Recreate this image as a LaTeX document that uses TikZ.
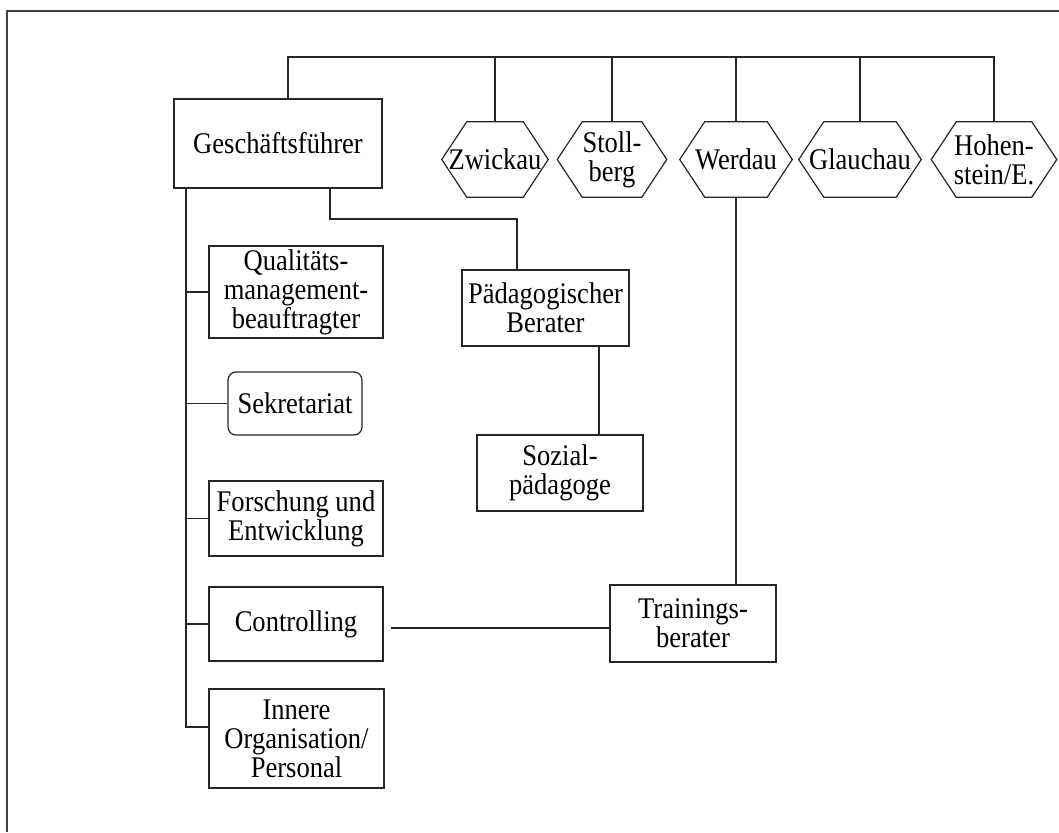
\documentclass[tikz,border=0pt]{standalone}
\usepackage{fontspec}
\setmainfont{Liberation Serif}[FakeStretch=0.885]
\usetikzlibrary{calc}
\tikzset{
  unit/.style={draw=black!85, line width=0.9pt, fill=white, inner sep=0pt, align=center,
    font=\fontsize{22.5}{21.8}\selectfont},
  box/.style={unit, rectangle},
  roundbox/.style={unit, rectangle, rounded corners=6pt},
  hexbox/.style={rectangle, inner sep=0pt, align=center, minimum height=56.25pt,
    font=\fontsize{22.5}{21.8}\selectfont},
  link/.style={draw=black!85, line width=0.9pt},
  frame/.style={draw=black!75, line width=1.5pt}
}
\begin{document}
\begin{tikzpicture}[x=0.75pt, y=-0.75pt]
\useasboundingbox (0,0) rectangle (1059,832);

% page frame (top and left edges)
\draw[frame] (1059,11) -- (7,11) -- (7,832);

% management
\node[box, minimum width=156pt, minimum height=66.75pt] (gf) at (278,143.5) {Geschäftsführer};

% staff units
\node[box, minimum width=130.5pt, minimum height=69pt] (qm) at (296,292) {Qualitäts-\\management-\\beauftragter};
\node[roundbox, minimum width=100.5pt, minimum height=47.25pt] (sek) at (295,403.5) {Sekretariat};
\node[box, minimum width=130.5pt, minimum height=56.25pt] (fe) at (296,518.5) {Forschung und\\Entwicklung};
\node[box, minimum width=130.5pt, minimum height=55.5pt] (ctrl) at (296,624) {Controlling};
\node[box, minimum width=131.25pt, minimum height=74.25pt] (inn) at (296.5,738.5) {Innere\\Organisation/\\Personal};

% advisers
\node[box, minimum width=125.25pt, minimum height=57pt] (pb) at (545.5,308) {Pädagogischer\\Berater};
\node[box, minimum width=124.5pt, minimum height=57pt] (sp) at (560,473) {Sozial-\\pädagoge};
\node[box, minimum width=124.5pt, minimum height=57.75pt] (tb) at (693,623.5) {Trainings-\\berater};

% sites
\node[hexbox, minimum width=79.5pt] (zw) at (495,159.5) {Zwickau};
\node[hexbox, minimum width=81.75pt] (st) at (612,159.5) {Stoll-\\berg};
\node[hexbox, minimum width=84pt] (we) at (736,159.5) {Werdau};
\node[hexbox, minimum width=91.5pt] (gl) at (860,159.5) {Glauchau};
\node[hexbox, minimum width=93.75pt] (ho) at (994,159.5) {Hohen-\\stein/E.};
\foreach \n in {zw,st,we,gl,ho}
  \draw[link] (\n.west) -- ([xshift=18.75pt]\n.north west) -- ([xshift=-18.75pt]\n.north east)
    -- (\n.east) -- ([xshift=-18.75pt]\n.south east) -- ([xshift=18.75pt]\n.south west) -- cycle;

% bus to the sites
\coordinate (bus) at (288,57);
\draw[link] (bus |- gf.north) -- (bus) -- (bus -| ho.north) -- (ho.north);
\foreach \n in {zw,st,we,gl}
  \draw[link] (\n.north) -- (\n.north |- bus);

% management to pedagogical adviser
\coordinate (k1) at (330,219);
\coordinate (k2) at (517,219);
\draw[link] (k1 |- gf.south) -- (k1) -- (k2) -- (k2 |- pb.north);

% pedagogical adviser to social pedagogue
\coordinate (k3) at (599,0);
\draw[link] (k3 |- pb.south) -- (k3 |- sp.north);

% Werdau to training adviser
\draw[link] (we.south) -- (we.south |- tb.north);

% controlling to training adviser
\coordinate (cl) at (391,628);
\draw[link] (cl) -- (cl -| tb.west);

% staff spine
\coordinate (spine) at (186,727);
\draw[link] (spine |- gf.south) -- (spine) -- (spine -| inn.west);
\foreach \n in {qm,sek,fe,ctrl}
  \draw[link] (spine |- \n.west) -- (\n.west);
\end{tikzpicture}
\end{document}
